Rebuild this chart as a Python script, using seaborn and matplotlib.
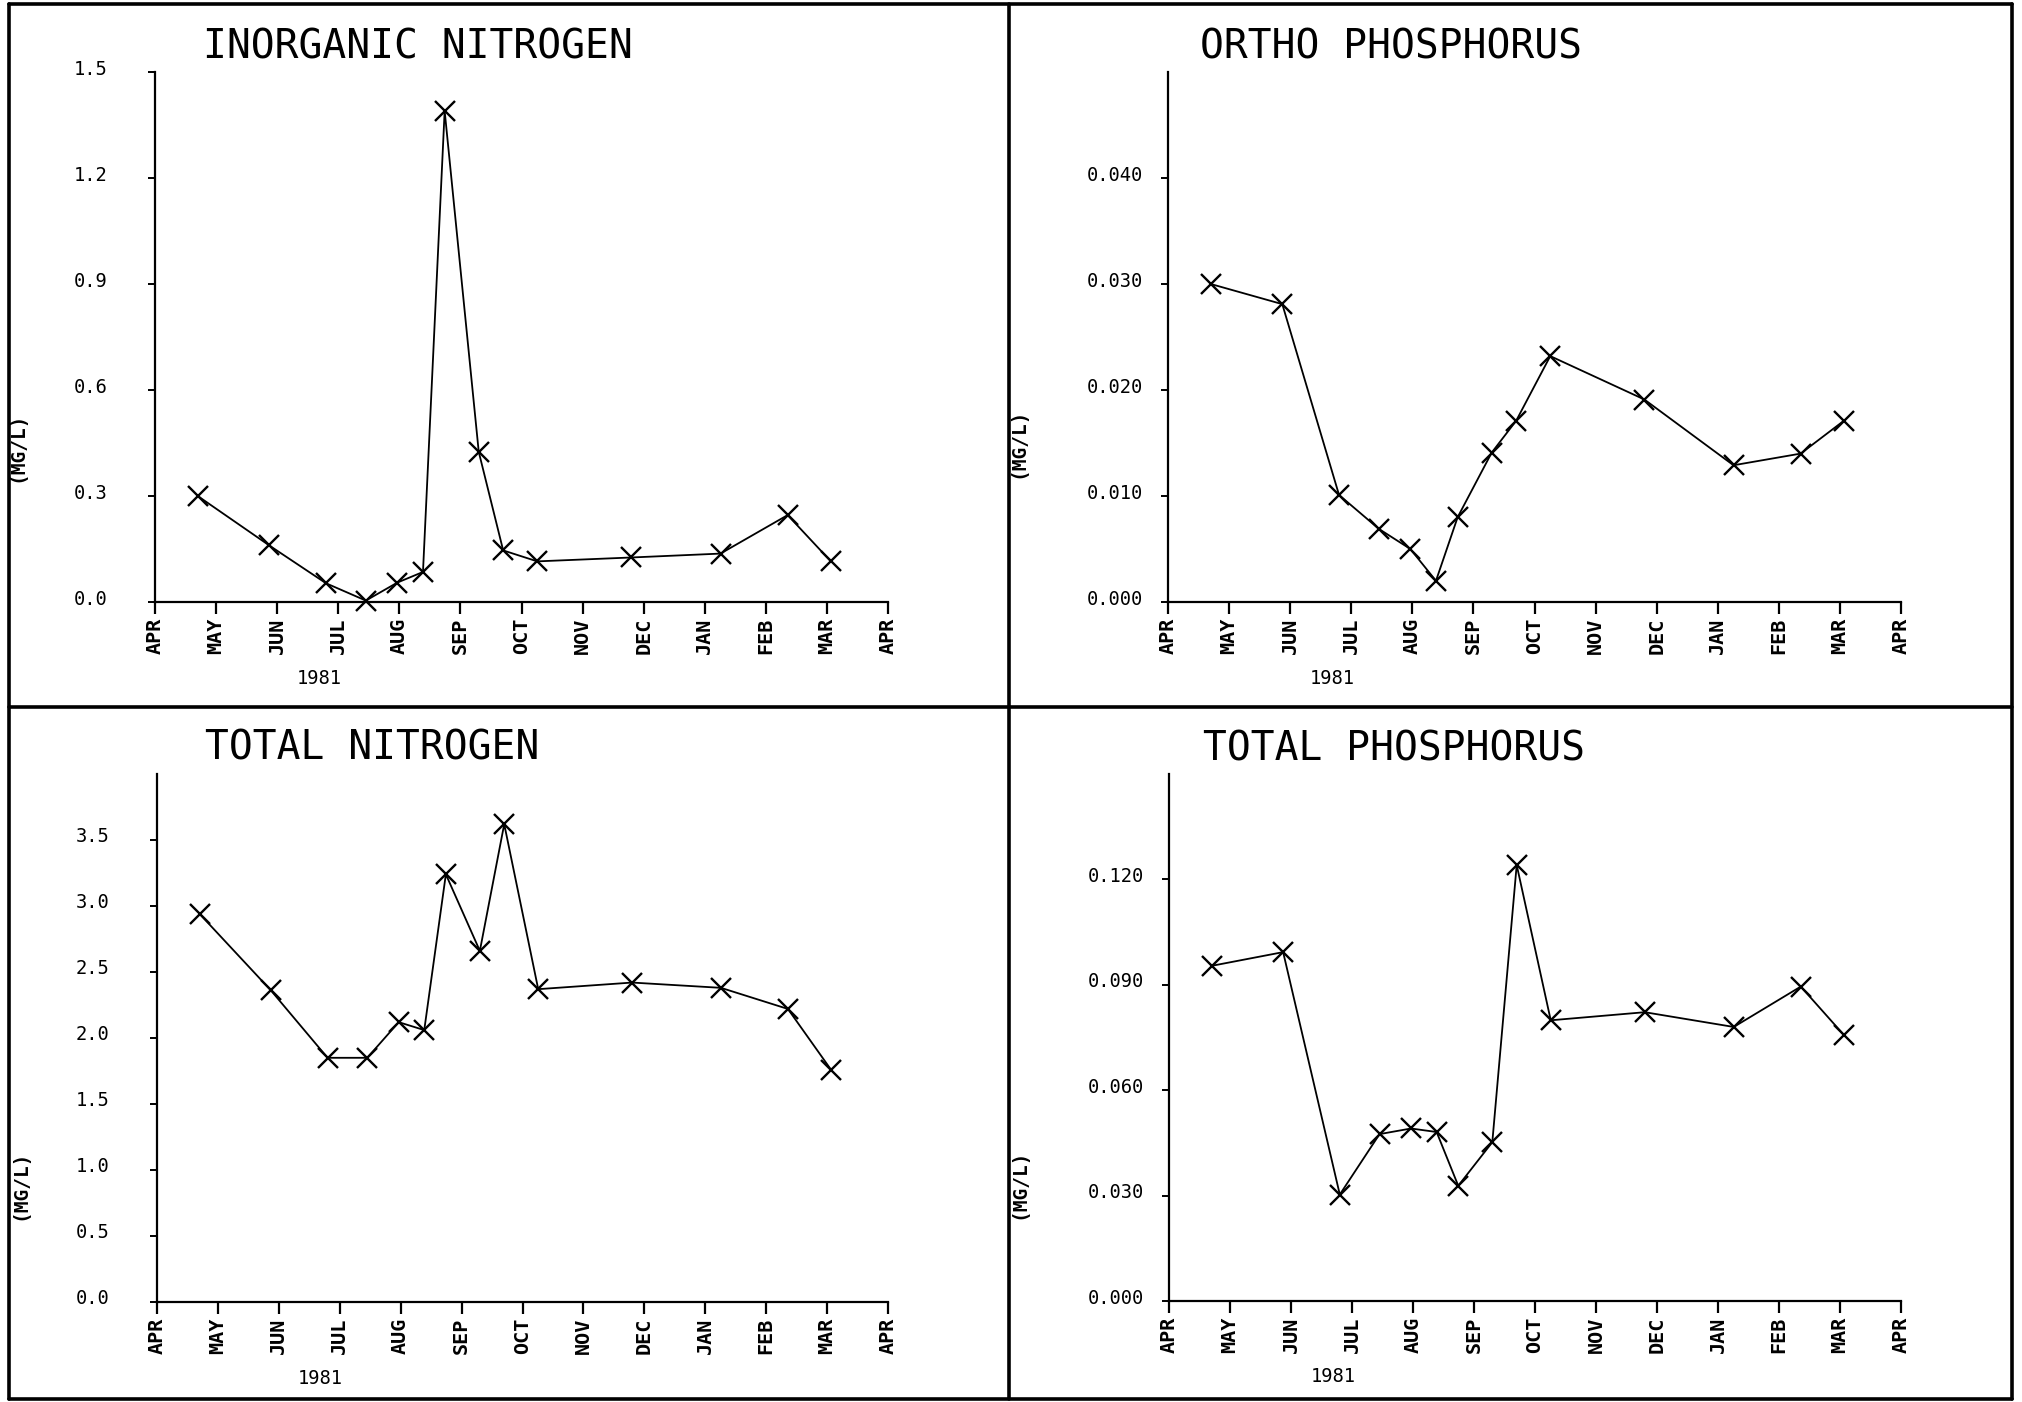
import matplotlib
matplotlib.use("Agg")
import calendar
import datetime
import matplotlib.pyplot as plt
import seaborn as sns
import pandas as pd
from matplotlib.lines import Line2D
from matplotlib.transforms import ScaledTranslation

# ---------------- data ----------------
sample_dates = ["1981-04-22", "1981-05-28", "1981-06-25", "1981-07-15", "1981-07-31",
                "1981-08-13", "1981-08-24", "1981-09-10", "1981-09-22", "1981-10-09",
                "1981-11-25", "1982-01-09", "1982-02-11", "1982-03-03"]

inorganic_nitrogen = [0.30, 0.16, 0.053, 0.004, 0.055, 0.085, 1.39, 0.425, 0.146, 0.115,
                      0.126, 0.137, 0.246, 0.115]
ortho_phosphorus = [0.0300, 0.0281, 0.0101, 0.0069, 0.0050, 0.0020, 0.0080, 0.0141, 0.0171,
                    0.0232, 0.0191, 0.0129, 0.0140, 0.0171]
total_nitrogen = [2.94, 2.36, 1.85, 1.85, 2.12, 2.06, 3.24, 2.66, 3.62, 2.37, 2.42, 2.38,
                  2.22, 1.76]
total_phosphorus = [0.0954, 0.0993, 0.0303, 0.0475, 0.0491, 0.0481, 0.0328, 0.0452, 0.1241,
                    0.0799, 0.0822, 0.0780, 0.0895, 0.0757]

month_labels = ["APR", "MAY", "JUN", "JUL", "AUG", "SEP", "OCT", "NOV", "DEC", "JAN",
                "FEB", "MAR", "APR"]
year_label = "1981"

titles = ["INORGANIC NITROGEN", "ORTHO PHOSPHORUS", "TOTAL NITROGEN", "TOTAL PHOSPHORUS"]
y_unit = "(MG/L)"

inorg_n_ticks = [0.0, 0.3, 0.6, 0.9, 1.2, 1.5]
inorg_n_ticklabels = ["0.0", "0.3", "0.6", "0.9", "1.2", "1.5"]
ortho_p_ticks = [0.0, 0.01, 0.02, 0.03, 0.04]
ortho_p_ticklabels = ["0.000", "0.010", "0.020", "0.030", "0.040"]
total_n_ticks = [0.0, 0.5, 1.0, 1.5, 2.0, 2.5, 3.0, 3.5]
total_n_ticklabels = ["0.0", "0.5", "1.0", "1.5", "2.0", "2.5", "3.0", "3.5"]
total_p_ticks = [0.0, 0.03, 0.06, 0.09, 0.12]
total_p_ticklabels = ["0.000", "0.030", "0.060", "0.090", "0.120"]


def month_position(s):
    d = datetime.date.fromisoformat(s)
    ndays = calendar.monthrange(d.year, d.month)[1]
    return (d.year - 1981) * 12 + (d.month - 4) + (d.day - 1) / ndays


x_months = [month_position(s) for s in sample_dates]

# ---------------- style ----------------
sns.set_style("ticks")
plt.rcParams["font.family"] = ["DejaVu Sans Mono", "DejaVu Sans"]
plt.rcParams["axes.linewidth"] = 1.5
for key in ("text.color", "axes.labelcolor", "xtick.color", "ytick.color", "axes.edgecolor"):
    plt.rcParams[key] = "black"

W, H = 2022, 1402
fig = plt.figure(figsize=(W / 100, H / 100), dpi=100)
fig.patch.set_facecolor("white")


def px_axes(x0, y_top, x1, y_bot):
    return fig.add_axes([x0 / W, 1 - y_bot / H, (x1 - x0) / W, (y_bot - y_top) / H])


panels = [
    (px_axes(155, 72, 888, 602), inorganic_nitrogen, 1.5, inorg_n_ticks, inorg_n_ticklabels,
     titles[0], 0.066, (-0.176, 0.292)),
    (px_axes(1168, 72, 1901, 602), ortho_phosphorus, 0.05, ortho_p_ticks, ortho_p_ticklabels,
     titles[1], 0.044, (-0.192, 0.30)),
    (px_axes(157, 774, 888, 1302), total_nitrogen, 4.0, total_n_ticks, total_n_ticklabels,
     titles[2], 0.066, (-0.175, 0.223)),
    (px_axes(1169, 774, 1901, 1301), total_phosphorus, 0.15, total_p_ticks, total_p_ticklabels,
     titles[3], 0.046, (-0.192, 0.223)),
]

PX = 72 / 100  # points per pixel

for ax, vals, ytop, yt, ytl, title, tx, ylc in panels:
    df = pd.DataFrame({"month": x_months, "value": vals})
    sns.lineplot(data=df, x="month", y="value", ax=ax, color="black", linewidth=1.3,
                 marker="x", markersize=14, markeredgewidth=1.7, markeredgecolor="black",
                 sort=False, legend=False, clip_on=False)
    ax.set_xlim(0, 12)
    ax.set_ylim(0, ytop)
    ax.set_facecolor("white")
    for side in ("top", "right"):
        ax.spines[side].set_visible(False)
    for side in ("left", "bottom"):
        ax.spines[side].set_linewidth(1.6)
        ax.spines[side].set_color("black")

    ax.set_xticks(range(13), month_labels, rotation=90, fontsize=14.5, fontweight="bold",
                  ha="center", va="top")
    ax.tick_params(axis="x", direction="out", length=12 * PX, width=1.6, pad=4 * PX,
                   color="black", labelcolor="black")
    ax.tick_params(axis="y", direction="out", length=7 * PX, width=1.4, pad=74 * PX,
                   color="black", labelcolor="black")
    ax.set_yticks(yt, ytl, fontsize=13.5, ha="left")
    for lbl in ax.get_yticklabels():
        lbl.set_transform(lbl.get_transform() + ScaledTranslation(0, 5 / 100, fig.dpi_scale_trans))

    ax.set_xlabel("")
    ax.set_ylabel(y_unit, fontsize=14, fontweight="bold", color="black")
    ax.yaxis.set_label_coords(*ylc)

    ax.annotate(title, xy=(tx, 1.0), xycoords="axes fraction", xytext=(0, 25 * PX),
                textcoords="offset points", ha="left", va="center", fontsize=28.5,
                color="black")
    ax.annotate(year_label, xy=(0.224, 0.0), xycoords="axes fraction", xytext=(0, -76 * PX),
                textcoords="offset points", ha="center", va="center", fontsize=13.5,
                color="black")

# frame lines around panels
def fig_line(x0, y0, x1, y1):
    fig.add_artist(Line2D([x0 / W, x1 / W], [1 - y0 / H, 1 - y1 / H], color="black",
                          linewidth=2.6, transform=fig.transFigure))

fig_line(9, 4, 2012, 4)
fig_line(9, 1399, 2012, 1399)
fig_line(9, 4, 9, 1399)
fig_line(2012, 4, 2012, 1399)
fig_line(1009, 4, 1009, 1399)
fig_line(9, 707, 2012, 707)

fig.savefig("out.png", dpi=100, facecolor="white")
